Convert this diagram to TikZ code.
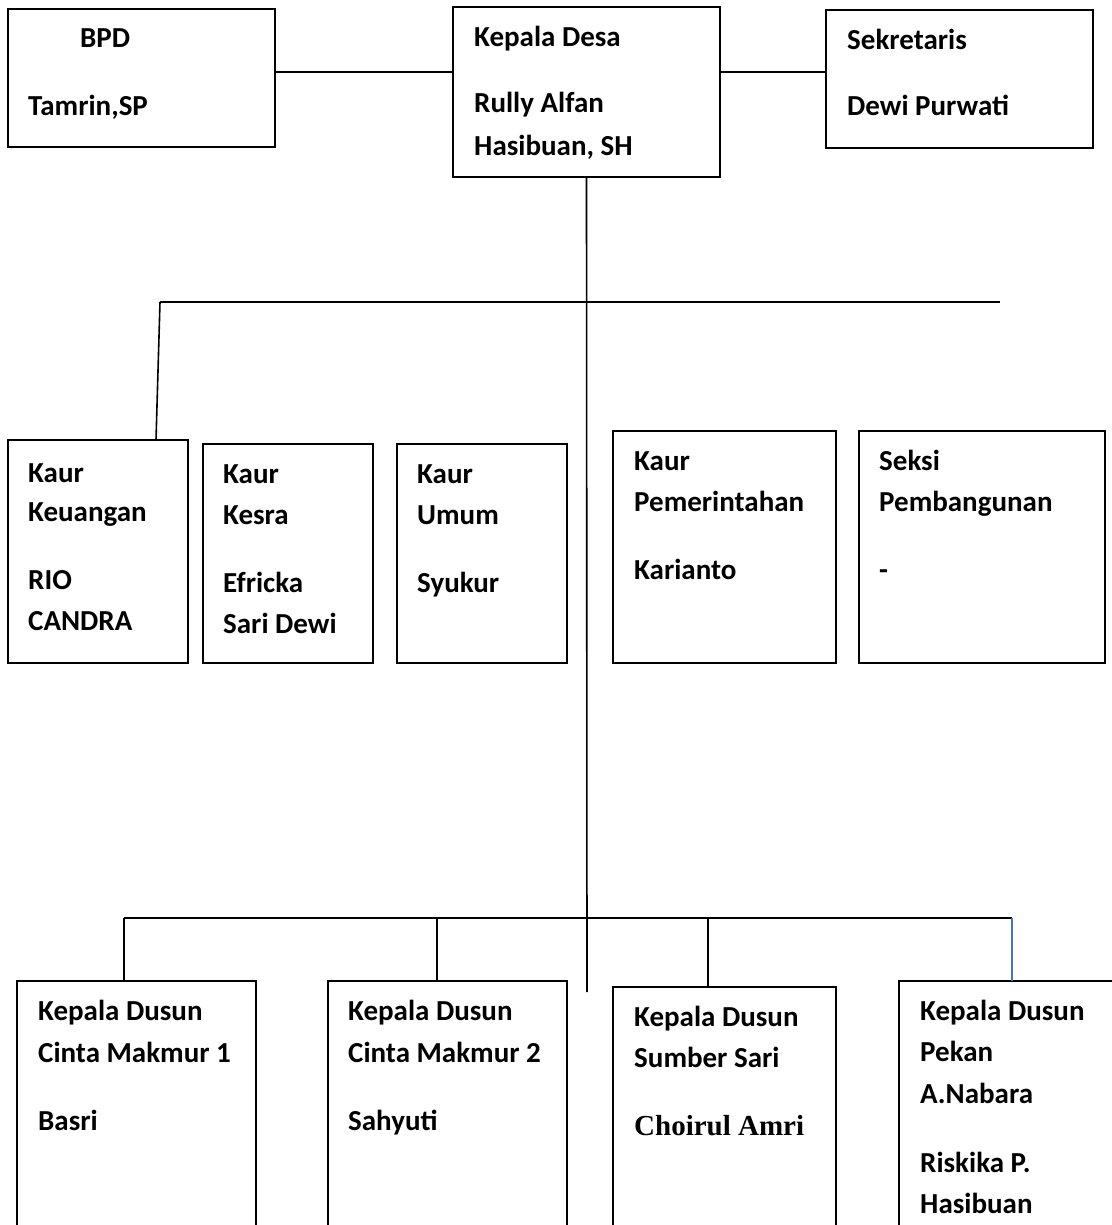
\documentclass[tikz,border=0pt]{standalone}
\usepackage{fontspec}
\setmainfont{Carlito}
\newfontfamily\tnrfont{Liberation Serif}
\usetikzlibrary{calc}
\definecolor{linkblue}{RGB}{68,114,196}
\begin{document}
\begin{tikzpicture}[x=1pt,y=-1pt,
  box/.style={draw,line width=1.2pt,inner sep=0pt,outer sep=0pt,anchor=north west},
  txt/.style={anchor=base west,inner sep=0pt,font=\fontsize{29}{35}\selectfont\bfseries},
  conn/.style={line width=1.6pt}]
\useasboundingbox (0,0) rectangle (1111,1225);
% top row
\node[box,minimum width=267pt,minimum height=138pt] (bpd) at (8,9) {};
\node[box,minimum width=267pt,minimum height=170pt] (kd) at (453,7) {};
\node[box,minimum width=267pt,minimum height=138pt] (sek) at (826,10) {};
\node[txt] (bpd1) at (80,48) {BPD};
\node[txt] (bpd2) at (28,116) {Tamrin,SP};
\node[txt] (kd1) at (474,47) {Kepala Desa};
\node[txt] (kd2) at (474,113) {Rully Alfan};
\node[txt] (kd3) at (474,156) {Hasibuan, SH};
\node[txt] (sek1) at (847,50) {Sekretaris};
\node[txt] (sek2) at (847,116) {Dewi Purwati};
% middle row
\node[box,minimum width=180pt,minimum height=223pt] (keu) at (8,440) {};
\node[box,minimum width=170pt,minimum height=219pt] (kes) at (203,444) {};
\node[box,minimum width=170pt,minimum height=219pt] (umu) at (397,444) {};
\node[box,minimum width=223pt,minimum height=232pt] (pem) at (613,431) {};
\node[box,minimum width=246pt,minimum height=232pt] (pmb) at (859,431) {};
\node[txt] (keu1) at (28,482) {Kaur};
\node[txt] (keu2) at (28,521) {Keuangan};
\node[txt] (keu3) at (28,589) {RIO};
\node[txt] (keu4) at (28,630) {CANDRA};
\node[txt] (kes1) at (223,483) {Kaur};
\node[txt] (kes2) at (223,524) {Kesra};
\node[txt] (kes3) at (223,592) {Efricka};
\node[txt] (kes4) at (223,633) {Sari Dewi};
\node[txt] (umu1) at (417,483) {Kaur};
\node[txt] (umu2) at (417,524) {Umum};
\node[txt] (umu3) at (417,592) {Syukur};
\node[txt] (pem1) at (634,470) {Kaur};
\node[txt] (pem2) at (634,511) {Pemerintahan};
\node[txt] (pem3) at (634,579) {Karianto};
\node[txt] (pmb1) at (879,470) {Seksi};
\node[txt] (pmb2) at (879,511) {Pembangunan};
\node[txt] (pmb3) at (879,579) {-};
% bottom row
\node[box,minimum width=239pt,minimum height=270pt] (cm1) at (17,981) {};
\node[box,minimum width=239pt,minimum height=270pt] (cm2) at (328,981) {};
\node[box,minimum width=223pt,minimum height=264pt] (ss) at (613,987) {};
\node[box,minimum width=240pt,minimum height=270pt] (pk) at (899,981) {};
\node[txt] (cm1a) at (38,1020) {Kepala Dusun};
\node[txt] (cm1b) at (38,1062) {Cinta Makmur 1};
\node[txt] (cm1c) at (38,1130) {Basri};
\node[txt] (cm2a) at (348,1020) {Kepala Dusun};
\node[txt] (cm2b) at (348,1062) {Cinta Makmur 2};
\node[txt] (cm2c) at (348,1130) {Sahyuti};
\node[txt] (ssa) at (634,1026) {Kepala Dusun};
\node[txt] (ssb) at (634,1067) {Sumber Sari};
\node[txt,font=\fontsize{29}{35}\selectfont\tnrfont\bfseries] (ssc) at (634,1135) {Choirul Amri};
\node[txt] (pka) at (920,1020) {Kepala Dusun};
\node[txt] (pkb) at (920,1061) {Pekan};
\node[txt] (pkc) at (920,1103) {A.Nabara};
\node[txt] (pkd) at (920,1172) {Riskika P.};
\node[txt] (pke) at (920,1213) {Hasibuan};
% connectors
\draw[conn] (bpd.north east) ++(0,63) coordinate (a1) -- (a1 -| kd.west);
\draw[conn] (kd.north east) ++(0,65) coordinate (a2) -- (a2 -| sek.west);
\coordinate (mainend) at (587,992);
\draw[conn] (kd.south) -- (mainend);
\coordinate (h1l) at (160,302);
\coordinate (h1r) at (1000,302);
\draw[conn] (h1l) -- (h1r);
\draw[conn] (h1l) -- ($(keu.north west)+(148,0)$);
\coordinate (h2l) at (124,918);
\coordinate (h2r) at (1012,918);
\draw[conn] (h2l) -- (h2r);
\draw[conn] (h2l) -- (h2l |- cm1.north);
\coordinate (d2) at (437,918);
\draw[conn] (d2) -- (d2 |- cm2.north);
\coordinate (d3) at (708,918);
\draw[conn] (d3) -- (d3 |- ss.north);
\draw[line width=1.2pt,linkblue] (h2r) -- (h2r |- pk.north);
\end{tikzpicture}
\end{document}
